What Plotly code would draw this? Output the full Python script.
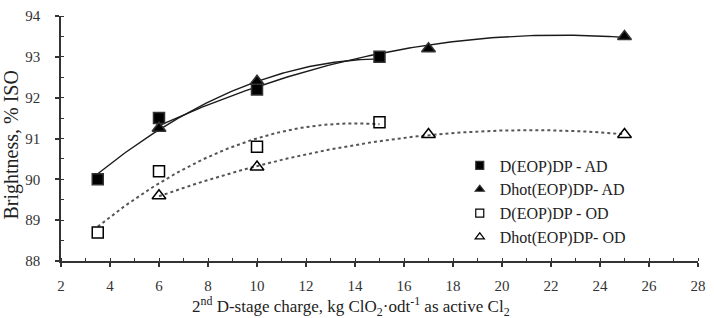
import numpy as np
import plotly.graph_objects as go

# Data
x_d_ad = [3.5, 6, 10, 15]
y_d_ad = [90.0, 91.5, 92.2, 93.0]
x_dh_ad = [6, 10, 17, 25]
y_dh_ad = [91.25, 92.4, 93.2, 93.5]
x_d_od = [3.5, 6, 10, 15]
y_d_od = [88.7, 90.2, 90.8, 91.4]
x_dh_od = [6, 10, 17, 25]
y_dh_od = [89.6, 90.3, 91.1, 91.1]
names = ["D(EOP)DP - AD", "Dhot(EOP)DP- AD", "D(EOP)DP - OD", "Dhot(EOP)DP- OD"]
x_title = "2<sup>nd</sup> D-stage charge, kg ClO<sub>2</sub>·odt<sup>-1</sup> as active Cl<sub>2</sub>"
y_title = "Brightness, % ISO"

FONT = "Liberation Serif"

def trend(xs, ys):
    c = np.polyfit(xs, ys, 2)
    xx = np.linspace(min(xs), max(xs), 120)
    return xx, np.polyval(c, xx)

fig = go.Figure()

series = [
    (x_d_ad, y_d_ad, "square", "solid"),
    (x_dh_ad, y_dh_ad, "triangle-up", "solid"),
    (x_d_od, y_d_od, "square-open", "dot"),
    (x_dh_od, y_dh_od, "triangle-up-open", "dot"),
]

for xs, ys, sym, dash in series:
    tx, ty = trend(xs, ys)
    fig.add_trace(go.Scatter(x=tx, y=ty, mode="lines", showlegend=False,
                             line=dict(color="#1a1a1a" if dash == "solid" else "#555",
                                       width=1.4 if dash == "solid" else 2, dash=dash),
                             hoverinfo="skip"))

for (xs, ys, sym, dash), nm in zip(series, names):
    fig.add_trace(go.Scatter(x=xs, y=ys, mode="markers", showlegend=False,
                             marker=dict(symbol=sym, size=11 if "square" in sym else 12,
                                         color="black", line=dict(color="#333", width=1.5))))
    fig.add_trace(go.Scatter(x=[None], y=[None], mode="markers", name=nm,
                             marker=dict(symbol=sym, size=8, color="black",
                                         line=dict(color="#333", width=1.2))))

axis_common = dict(showgrid=False, zeroline=False, showline=True, linecolor="#333",
                   linewidth=1.5, ticks="outside", ticklen=4, tickwidth=1.5, tickcolor="#333",
                   tickfont=dict(family=FONT, size=15, color="#333"), automargin=False)

fig.update_xaxes(range=[2, 28], dtick=2, tick0=2, ticklabelstandoff=6,
                 minor=dict(ticks="inside", dtick=1, ticklen=3, tickcolor="#333", tickwidth=1.2),
                 **axis_common)
fig.update_yaxes(range=[88, 94], dtick=1, ticklabelstandoff=12,
                 minor=dict(ticks="inside", dtick=0.5, ticklen=3, tickcolor="#333", tickwidth=1.2),
                 **axis_common)

fig.add_annotation(text=x_title, xref="paper", yref="paper", x=0.456, y=-0.184,
                   xanchor="center", yanchor="middle", showarrow=False,
                   font=dict(family=FONT, size=17, color="#222"))
fig.add_annotation(text=y_title, xref="paper", yref="paper", x=-0.077, y=0.475,
                   xanchor="center", yanchor="middle", showarrow=False, textangle=-90,
                   font=dict(family=FONT, size=20, color="#222"))

fig.update_layout(
    width=714, height=318,
    margin=dict(l=61, r=16, t=16, b=57),
    plot_bgcolor="white", paper_bgcolor="white",
    legend=dict(x=0.626, y=0.459, xanchor="left", yanchor="top",
                font=dict(family=FONT, size=16, color="#222"),
                bgcolor="rgba(0,0,0,0)", tracegroupgap=0, itemwidth=30),
)

fig.write_html("out.html")
